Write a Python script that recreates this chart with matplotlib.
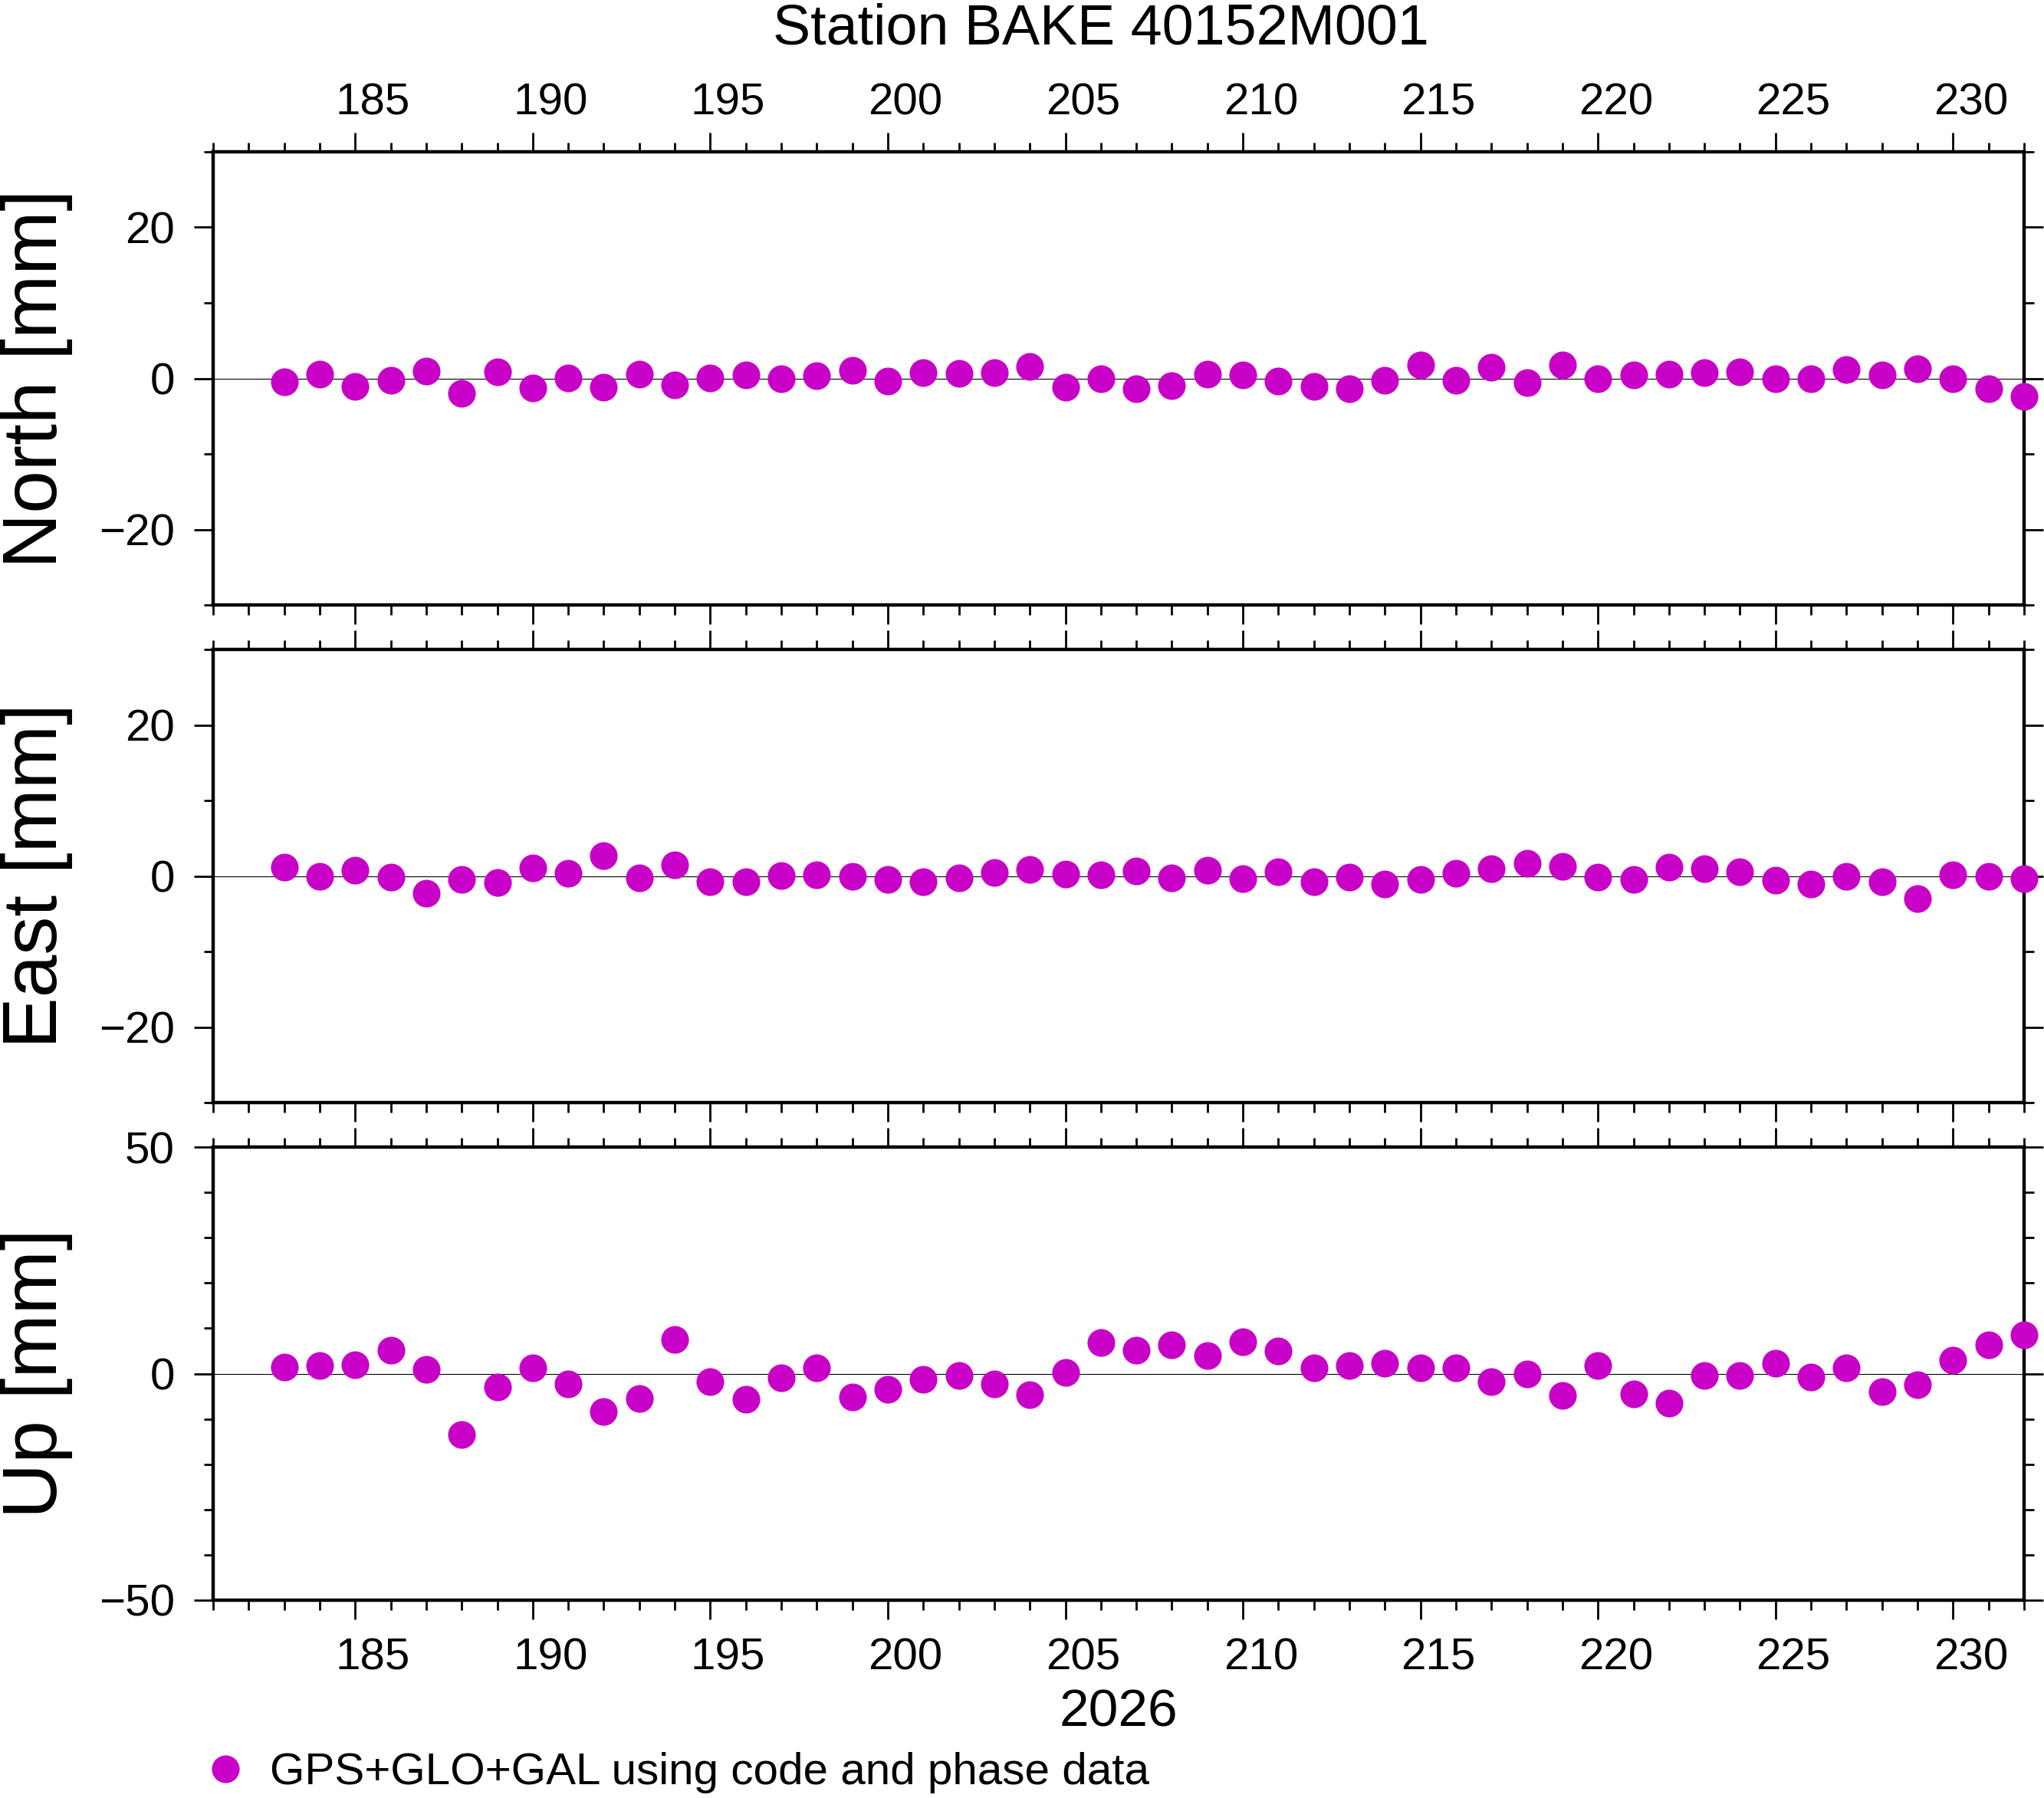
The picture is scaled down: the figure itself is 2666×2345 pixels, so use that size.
import matplotlib
matplotlib.use('Agg')
import matplotlib.pyplot as plt
from matplotlib.ticker import MultipleLocator
from matplotlib.lines import Line2D

plt.rcParams['font.family'] = ['Liberation Sans', 'DejaVu Sans']

# ---------------- data ----------------
days = [183, 184, 185, 186, 187, 188, 189, 190, 191, 192,
        193, 194, 195, 196, 197, 198, 199, 200, 201, 202,
        203, 204, 205, 206, 207, 208, 209, 210, 211, 212,
        213, 214, 215, 216, 217, 218, 219, 220, 221, 222,
        223, 224, 225, 226, 227, 228, 229, 230, 231, 232]

north = [-0.5, 0.6, -1.1, -0.3, 1.0, -2.0, 0.9, -1.3, 0.1, -1.2,
         0.6, -0.9, 0.1, 0.5, -0.1, 0.4, 1.1, -0.4, 0.8, 0.7,
         0.8, 1.6, -1.2, -0.1, -1.4, -1.0, 0.6, 0.5, -0.4, -1.1,
         -1.4, -0.3, 1.8, -0.3, 1.5, -0.6, 1.8, 0.0, 0.5, 0.6,
         0.8, 0.9, 0.0, -0.1, 1.2, 0.5, 1.3, 0.0, -1.4, -2.4]

east = [1.2, -0.1, 0.8, -0.2, -2.3, -0.5, -0.9, 1.1, 0.4, 2.7,
        -0.3, 1.5, -0.8, -0.8, 0.1, 0.2, -0.1, -0.5, -0.8, -0.3,
        0.5, 0.9, 0.3, 0.2, 0.7, -0.3, 0.8, -0.4, 0.6, -0.8,
        -0.2, -1.1, -0.5, 0.4, 1.0, 1.7, 1.3, -0.2, -0.5, 1.2,
        1.0, 0.6, -0.6, -1.1, -0.1, -0.8, -3.0, 0.2, -0.1, -0.4]

up = [1.5, 1.8, 2.0, 5.2, 1.0, -13.4, -3.0, 1.2, -2.3, -8.4,
      -5.5, 7.5, -1.7, -5.7, -1.0, 1.3, -5.2, -3.5, -1.3, -0.5,
      -2.2, -4.7, 0.2, 6.9, 5.2, 6.4, 4.0, 7.0, 5.0, 1.2,
      1.7, 2.2, 1.2, 1.3, -1.7, 0.0, -4.9, 1.7, -4.4, -6.5,
      -0.5, -0.5, 2.3, -0.7, 1.3, -3.9, -2.5, 3.0, 6.4, 8.5]

day_tick_labels = [185, 190, 195, 200, 205, 210, 215, 220, 225, 230]

panel_labels = ['North [mm]', 'East [mm]', 'Up [mm]']
panel_values = [north, east, up]
y_limits = [(-30, 30), (-30, 30), (-50, 50)]
y_major_step = [20, 20, 50]
y_minor_step = [10, 10, 10]
x_limits = (181, 232)
title_text = 'Station BAKE 40152M001'
year_text = '2026'
legend_text = 'GPS+GLO+GAL using code and phase data'
dot_color = '#C800C8'

# ---------------- layout ----------------
W, H = 2666, 2345
fig = plt.figure(figsize=(W / 100, H / 100), dpi=100)
fig.patch.set_facecolor('white')

ax_left = 278
ax_right = 2640
panel_tops = [198, 847, 1496]
panel_h = 591
MAJ_LEN = 18

axes = []
for i, (lab, vals) in enumerate(zip(panel_labels, panel_values)):
    top = panel_tops[i]
    ax = fig.add_axes([ax_left / W, 1 - (top + panel_h) / H,
                       (ax_right - ax_left) / W, panel_h / H])
    axes.append(ax)
    ax.axhline(0, color='black', lw=0.8, zorder=1)
    ax.plot(days, vals, ls='none', marker='o', color=dot_color, ms=26,
            mew=0, clip_on=False, zorder=3)
    ax.set_xlim(*x_limits)
    ax.set_ylim(*y_limits[i])
    ax.xaxis.set_major_locator(MultipleLocator(5))
    ax.xaxis.set_minor_locator(MultipleLocator(1))
    ax.yaxis.set_major_locator(MultipleLocator(y_major_step[i]))
    ax.yaxis.set_minor_locator(MultipleLocator(y_minor_step[i]))
    for s in ax.spines.values():
        s.set_linewidth(3.2)
    ax.tick_params(which='major', direction='out', length=MAJ_LEN, width=2,
                   labelsize=42, top=True, bottom=True, left=True, right=True,
                   labelleft=True, labelright=False)
    ax.tick_params(which='minor', direction='out', length=9, width=2,
                   top=True, bottom=True, left=True, right=True)
    ax.tick_params(axis='y', which='major', pad=18)
    # day labels are centred on the day interval (GMT style), drawn separately
    ax.tick_params(axis='x', labeltop=False, labelbottom=False)
    if i == 0:
        for d in day_tick_labels:
            ax.annotate(str(d), xy=(d + 0.5, 1.0),
                        xycoords=('data', 'axes fraction'),
                        xytext=(0, MAJ_LEN + 8), textcoords='offset points',
                        ha='center', va='bottom', fontsize=42,
                        annotation_clip=False)
    if i == 2:
        for d in day_tick_labels:
            ax.annotate(str(d), xy=(d + 0.5, 0.0),
                        xycoords=('data', 'axes fraction'),
                        xytext=(0, -(MAJ_LEN + 17)), textcoords='offset points',
                        ha='center', va='top', fontsize=42,
                        annotation_clip=False)
    fig.text(48 / W, 1 - (top + panel_h / 2) / H, lab, rotation=90,
             ha='center', va='center', fontsize=72)

fig.text(1436 / W, 1 - 57 / H, title_text, ha='center', va='baseline',
         fontsize=53)
fig.text(1459 / W, 1 - 2252 / H, year_text, ha='center', va='baseline',
         fontsize=50)

handle = Line2D([], [], ls='none', marker='o', color=dot_color, ms=26, mew=0)
fig.legend(handles=[handle], labels=[legend_text], loc='center left',
           bbox_to_anchor=(265 / W, 1 - 2312 / H), frameon=False,
           fontsize=42, handlelength=1.0, handletextpad=0.49,
           borderpad=0, borderaxespad=0)

fig.savefig('out.png', dpi=100)
